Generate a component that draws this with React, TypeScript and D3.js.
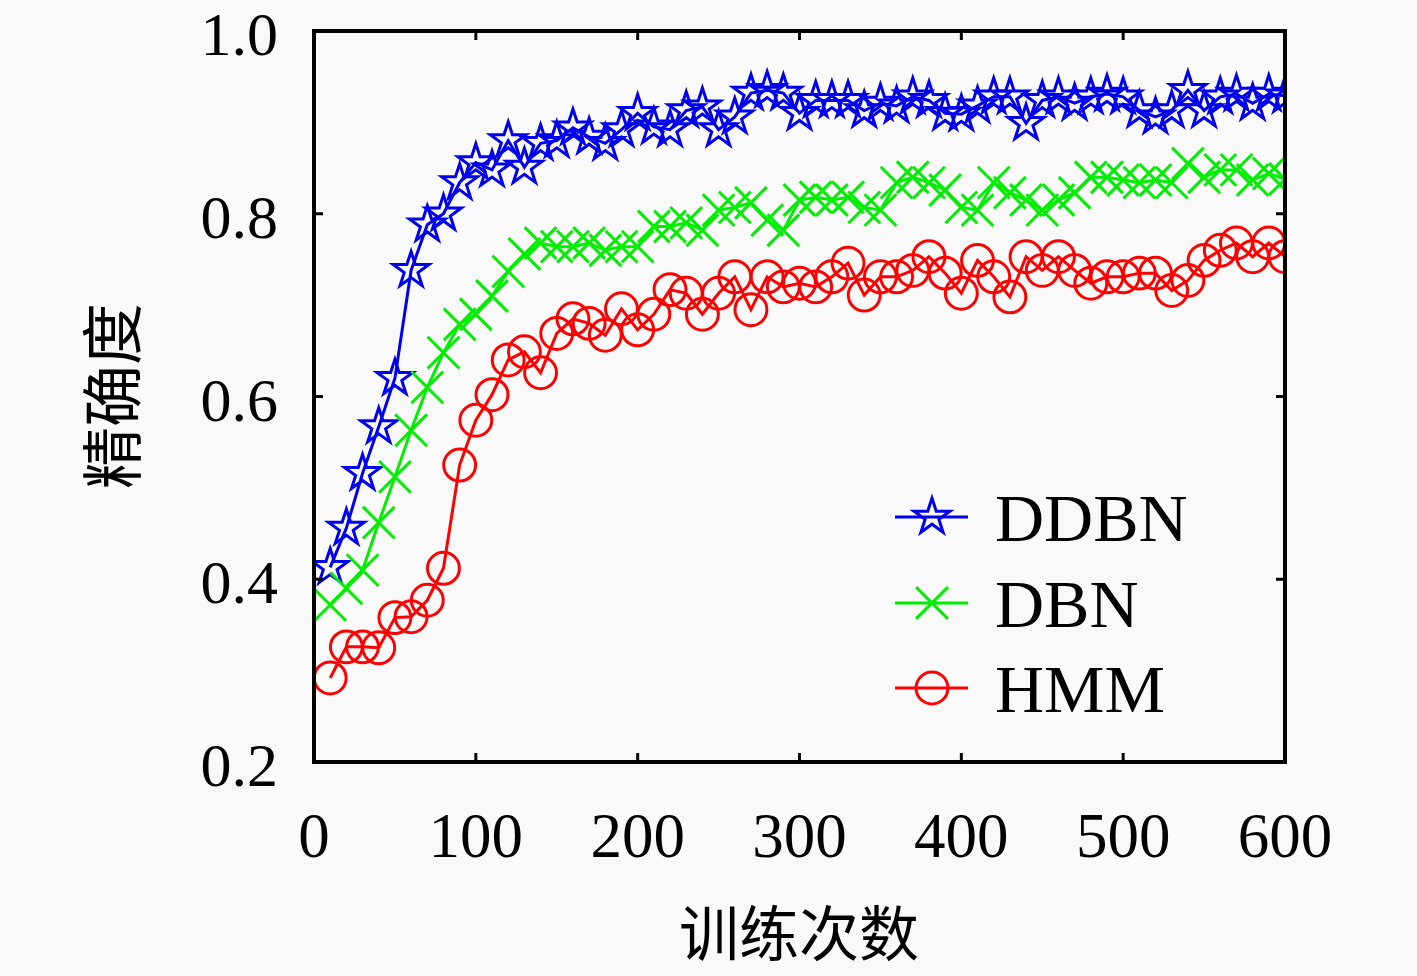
import { useEffect, useRef } from 'react'
import * as d3 from 'd3'

// training iterations (x) and accuracy for each model
const steps = [
  10, 20, 30, 40, 50, 60, 70, 80, 90, 100,
  110, 120, 130, 140, 150, 160, 170, 180, 190, 200,
  210, 220, 230, 240, 250, 260, 270, 280, 290, 300,
  310, 320, 330, 340, 350, 360, 370, 380, 390, 400,
  410, 420, 430, 440, 450, 460, 470, 480, 490, 500,
  510, 520, 530, 540, 550, 560, 570, 580, 590, 600,
]

const ddbn = [
  0.413, 0.456, 0.516, 0.567, 0.62, 0.738, 0.788, 0.80, 0.834, 0.856,
  0.848, 0.88, 0.851, 0.877, 0.88, 0.894, 0.884, 0.877, 0.892, 0.91,
  0.895, 0.892, 0.913, 0.917, 0.892, 0.906, 0.932, 0.935, 0.932, 0.91,
  0.924, 0.924, 0.924, 0.913, 0.921, 0.918, 0.928, 0.924, 0.91, 0.909,
  0.918, 0.928, 0.928, 0.899, 0.924, 0.928, 0.921, 0.928, 0.931, 0.928,
  0.913, 0.906, 0.913, 0.935, 0.913, 0.928, 0.931, 0.921, 0.931, 0.929,
]

const dbn = [
  0.372, 0.39, 0.41, 0.462, 0.512, 0.563, 0.61, 0.648, 0.679, 0.69,
  0.71, 0.737, 0.756, 0.768, 0.764, 0.764, 0.768, 0.76, 0.764, 0.764,
  0.786, 0.786, 0.79, 0.782, 0.804, 0.807, 0.812, 0.793, 0.782, 0.815,
  0.818, 0.815, 0.818, 0.807, 0.804, 0.834, 0.84, 0.834, 0.826, 0.807,
  0.804, 0.834, 0.823, 0.815, 0.804, 0.815, 0.823, 0.84, 0.84, 0.837,
  0.834, 0.837, 0.834, 0.855, 0.84, 0.848, 0.848, 0.837, 0.844, 0.838,
]

const hmm = [
  0.292, 0.326, 0.326, 0.325, 0.358, 0.359, 0.377, 0.412, 0.525, 0.574,
  0.602, 0.64, 0.649, 0.626, 0.669, 0.685, 0.68, 0.667, 0.696, 0.673,
  0.69, 0.717, 0.713, 0.69, 0.713, 0.731, 0.695, 0.731, 0.72, 0.724,
  0.72, 0.731, 0.746, 0.711, 0.731, 0.731, 0.738, 0.753, 0.735, 0.713,
  0.749, 0.731, 0.709, 0.753, 0.738, 0.753, 0.738, 0.724, 0.731, 0.731,
  0.735, 0.735, 0.716, 0.727, 0.749, 0.76, 0.768, 0.753, 0.768, 0.753,
]

const xTicks = [0, 100, 200, 300, 400, 500, 600]
const yTicks = [0.2, 0.4, 0.6, 0.8, 1.0]

const series = [
  { name: 'DDBN', values: ddbn, color: '#0000ee', symbol: d3.symbolStar, size: 400 },
  { name: 'DBN', values: dbn, color: '#00ee00', symbol: d3.symbolX, size: 660 },
  { name: 'HMM', values: hmm, color: '#ff0000', symbol: d3.symbolCircle, size: 800 },
]

const W = 1417
const H = 976
const margin = { top: 31, right: 132, bottom: 214, left: 314 }

export default function App() {
  const svgRef = useRef<SVGSVGElement>(null)

  useEffect(() => {
    document.body.style.margin = '0'
    if (!svgRef.current) return
    const svg = d3.select(svgRef.current)
    svg.selectAll('*').remove()

    const x = d3.scaleLinear().domain([0, 600]).range([margin.left, W - margin.right])
    const y = d3.scaleLinear().domain([0.2, 1.0]).range([H - margin.bottom, margin.top])
    const [x0, x1] = x.range()
    const [y0, y1] = y.range()

    svg.append('rect').attr('width', W).attr('height', H).attr('fill', '#f9f9f9')

    svg.append('defs').append('clipPath').attr('id', 'plot-clip')
      .append('rect').attr('x', x0).attr('y', y1).attr('width', x1 - x0).attr('height', y0 - y1)

    const num = 'Liberation Serif, DejaVu Serif, serif'
    const cjk = 'Noto Sans CJK SC, sans-serif'

    // series lines + markers
    const plot = svg.append('g').attr('clip-path', 'url(#plot-clip)')
    for (const s of series) {
      const pts = steps.map((st, i) => [st, s.values[i]] as [number, number])
      const line = d3.line<[number, number]>().x(d => x(d[0])).y(d => y(d[1]))
      plot.append('path').datum(pts)
        .attr('fill', 'none').attr('stroke', s.color).attr('stroke-width', 3)
        .attr('d', line)
      const sym = d3.symbol().type(s.symbol).size(s.size)
      plot.selectAll(null).data(pts).enter().append('path')
        .attr('transform', d => `translate(${x(d[0])},${y(d[1])})`)
        .attr('d', sym)
        .attr('fill', 'none').attr('stroke', s.color).attr('stroke-width', 3)
    }

    // ticks (inward on all four sides)
    const tl = 9
    for (const t of xTicks.slice(1, -1)) {
      svg.append('line').attr('x1', x(t)).attr('x2', x(t)).attr('y1', y0).attr('y2', y0 - tl)
        .attr('stroke', '#000').attr('stroke-width', 3)
      svg.append('line').attr('x1', x(t)).attr('x2', x(t)).attr('y1', y1).attr('y2', y1 + tl)
        .attr('stroke', '#000').attr('stroke-width', 3)
    }
    for (const t of yTicks.slice(1, -1)) {
      svg.append('line').attr('x1', x0).attr('x2', x0 + tl).attr('y1', y(t)).attr('y2', y(t))
        .attr('stroke', '#000').attr('stroke-width', 3)
      svg.append('line').attr('x1', x1).attr('x2', x1 - tl).attr('y1', y(t)).attr('y2', y(t))
        .attr('stroke', '#000').attr('stroke-width', 3)
    }

    // frame
    svg.append('rect').attr('x', x0).attr('y', y1).attr('width', x1 - x0).attr('height', y0 - y1)
      .attr('fill', 'none').attr('stroke', '#000').attr('stroke-width', 4)

    // tick labels
    svg.selectAll(null).data(xTicks).enter().append('text')
      .attr('x', d => x(d)).attr('y', 857)
      .attr('text-anchor', 'middle').attr('font-family', num).attr('font-size', 63)
      .text(d => String(d))
    svg.selectAll(null).data(yTicks).enter().append('text')
      .attr('x', 278).attr('y', d => y(d) + 24)
      .attr('text-anchor', 'end').attr('font-family', num).attr('font-size', 62)
      .text(d => d.toFixed(1))

    // axis titles
    svg.append('text').attr('x', 799).attr('y', 956)
      .attr('text-anchor', 'middle').attr('font-family', cjk).attr('font-size', 60)
      .text('训练次数')
    svg.append('text')
      .attr('transform', 'translate(136,396) rotate(-90)')
      .attr('text-anchor', 'middle').attr('font-family', cjk).attr('font-size', 62)
      .text('精确度')

    // legend
    const legY = [517, 603, 688]
    series.forEach((s, i) => {
      const g = svg.append('g').attr('transform', `translate(0,${legY[i]})`)
      g.append('line').attr('x1', 895).attr('x2', 968).attr('y1', 0).attr('y2', 0)
        .attr('stroke', s.color).attr('stroke-width', 3)
      g.append('path').attr('transform', 'translate(932,0)')
        .attr('d', d3.symbol().type(s.symbol).size(s.size)())
        .attr('fill', 'none').attr('stroke', s.color).attr('stroke-width', 3)
      g.append('text').attr('x', 995).attr('y', 24)
        .attr('font-family', num).attr('font-size', 68)
        .text(s.name)
    })
  }, [])

  return <svg ref={svgRef} width={W} height={H} style={{ display: 'block' }} />
}
